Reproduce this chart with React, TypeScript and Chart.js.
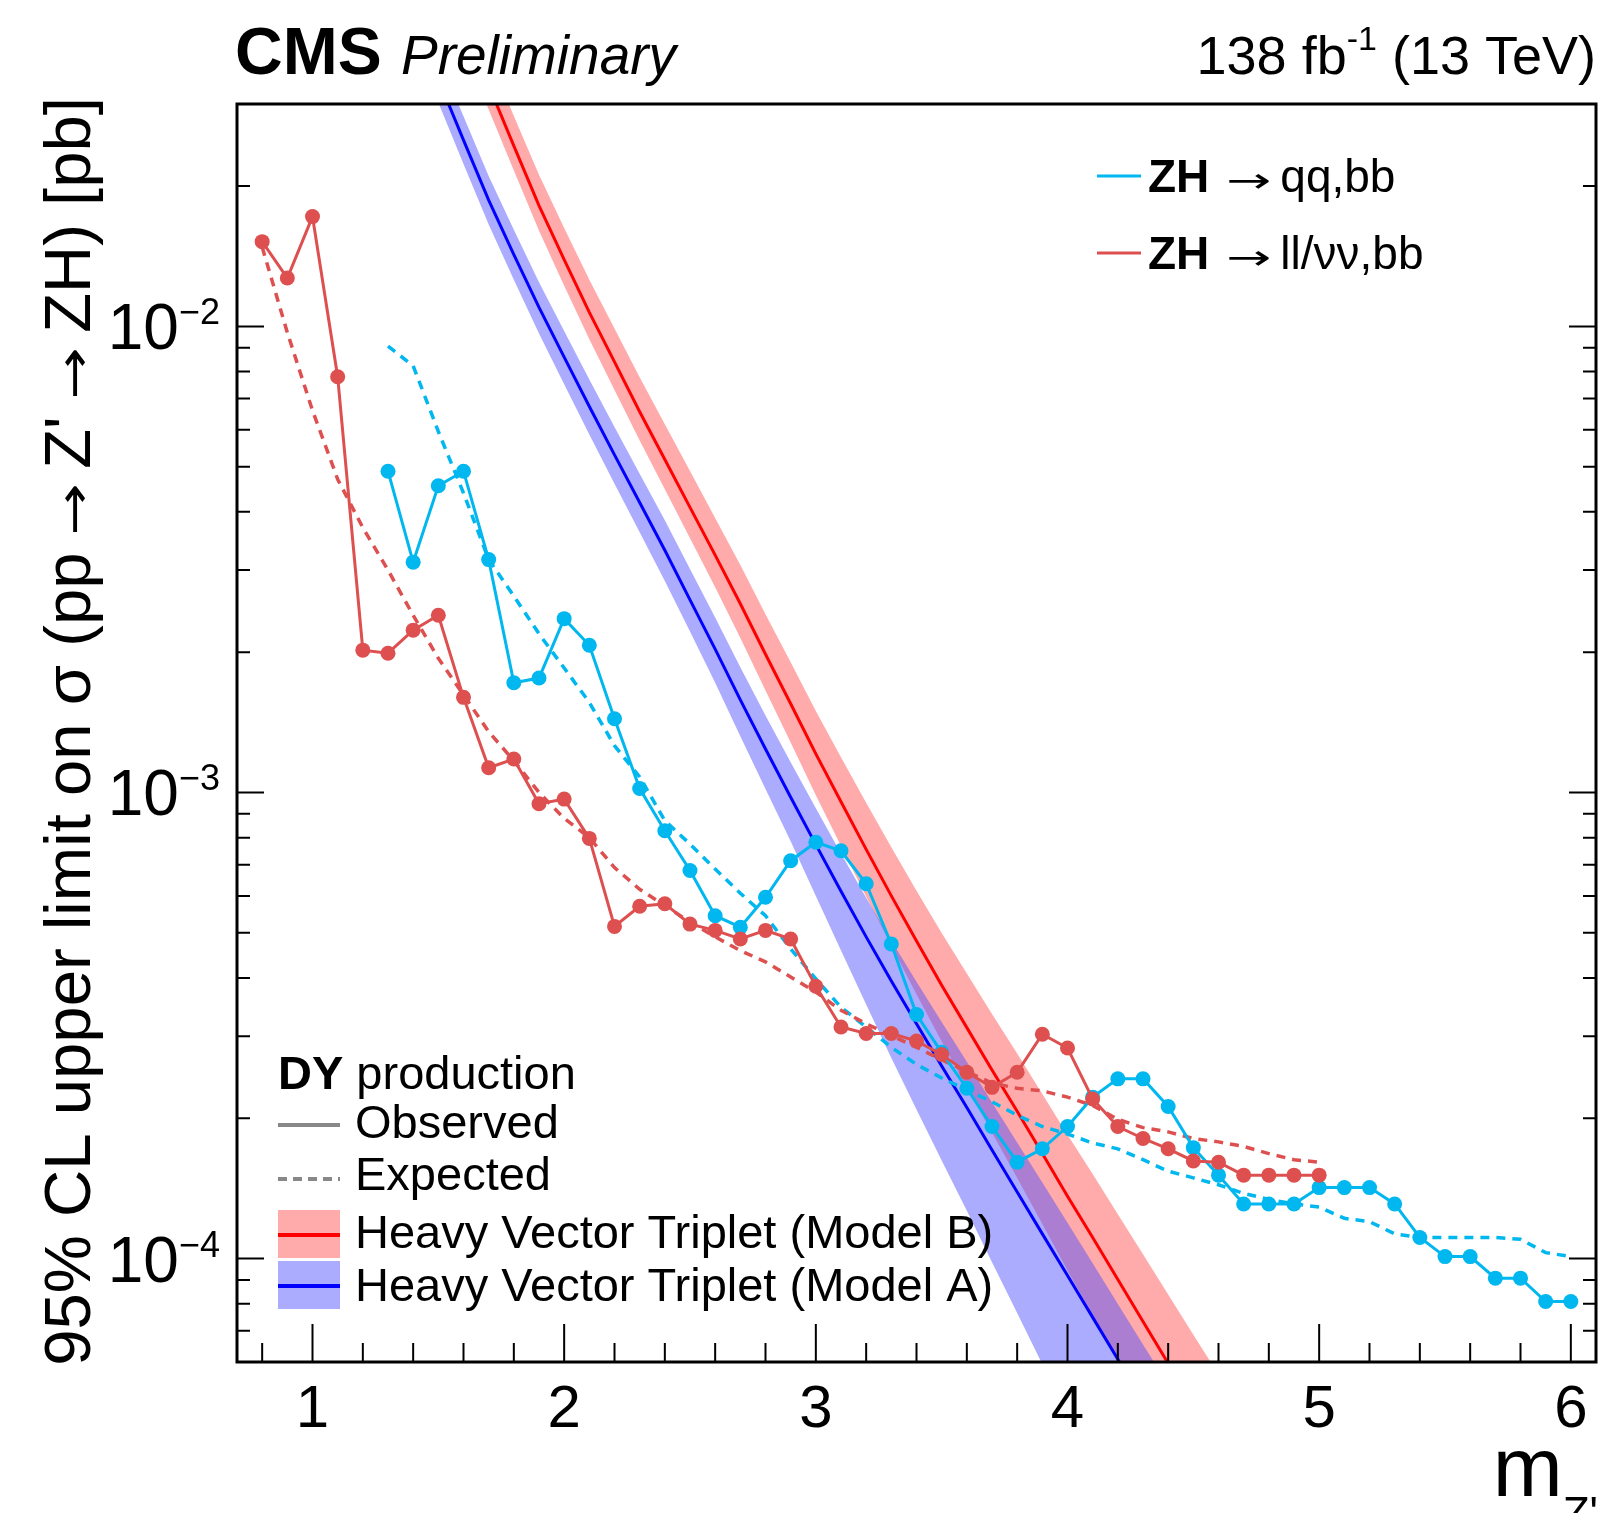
import { useEffect, useRef } from 'react';
import { Chart, registerables } from 'chart.js';

Chart.register(...registerables);

// ---------------- data ----------------
const RED_MASS = [0.8, 0.9, 1.0, 1.1, 1.2, 1.3, 1.4, 1.5, 1.6, 1.7, 1.8, 1.9, 2.0, 2.1, 2.2, 2.3, 2.4, 2.5, 2.6, 2.7, 2.8, 2.9, 3.0, 3.1, 3.2, 3.3, 3.4, 3.5, 3.6, 3.7, 3.8, 3.9, 4.0, 4.1, 4.2, 4.3, 4.4, 4.5, 4.6, 4.7, 4.8, 4.9, 5.0];
const RED_OBS = [0.0152, 0.0127, 0.0172, 0.0078, 0.00202, 0.00199, 0.00223, 0.0024, 0.0016, 0.00113, 0.00118, 0.000946, 0.000968, 0.000797, 0.000516, 0.00057, 0.000577, 0.000522, 0.000506, 0.000485, 0.000506, 0.000485, 0.000384, 0.000314, 0.000304, 0.000304, 0.000293, 0.000274, 0.000251, 0.000233, 0.000251, 0.000303, 0.000283, 0.00022, 0.000192, 0.000181, 0.000172, 0.000162, 0.000161, 0.000151, 0.000151, 0.000151, 0.000151];
const RED_EXP = [0.0148, 0.0097, 0.0066, 0.0047, 0.0037, 0.003, 0.0024, 0.00194, 0.00162, 0.00135, 0.00117, 0.001, 0.00088, 0.0008, 0.00069, 0.00062, 0.000572, 0.000527, 0.00049, 0.000458, 0.000433, 0.000402, 0.000373, 0.000341, 0.000319, 0.000301, 0.000284, 0.000267, 0.000252, 0.000238, 0.000232, 0.000229, 0.000222, 0.000213, 0.000199, 0.000191, 0.000187, 0.000181, 0.000178, 0.000174, 0.000168, 0.000163, 0.000161];

const CYAN_MASS = [1.3, 1.4, 1.5, 1.6, 1.7, 1.8, 1.9, 2.0, 2.1, 2.2, 2.3, 2.4, 2.5, 2.6, 2.7, 2.8, 2.9, 3.0, 3.1, 3.2, 3.3, 3.4, 3.5, 3.6, 3.7, 3.8, 3.9, 4.0, 4.1, 4.2, 4.3, 4.4, 4.5, 4.6, 4.7, 4.8, 4.9, 5.0, 5.1, 5.2, 5.3, 5.4, 5.5, 5.6, 5.7, 5.8, 5.9, 6.0];
const CYAN_OBS = [0.00489, 0.00312, 0.00455, 0.00489, 0.00316, 0.00172, 0.00176, 0.00236, 0.00207, 0.00144, 0.00102, 0.000828, 0.00068, 0.000544, 0.000514, 0.000596, 0.000714, 0.000782, 0.00075, 0.000637, 0.000473, 0.000334, 0.000277, 0.000232, 0.000192, 0.000161, 0.000172, 0.000192, 0.000222, 0.000243, 0.000243, 0.000212, 0.000173, 0.000151, 0.000131, 0.000131, 0.000131, 0.000142, 0.000142, 0.000142, 0.000131, 0.000111, 0.000101, 0.000101, 0.0000908, 0.0000908, 0.0000809, 0.0000809];
const CYAN_EXP = [0.00907, 0.00823, 0.00595, 0.00439, 0.00316, 0.00264, 0.00219, 0.00185, 0.00156, 0.00126, 0.00108, 0.00087, 0.000775, 0.000685, 0.000608, 0.000544, 0.000462, 0.000398, 0.000346, 0.000314, 0.000284, 0.000261, 0.000244, 0.00023, 0.000217, 0.000203, 0.000192, 0.000185, 0.000177, 0.000172, 0.000163, 0.000154, 0.000149, 0.000144, 0.000138, 0.000134, 0.000131, 0.000129, 0.000122, 0.00012, 0.000113, 0.000111, 0.000111, 0.000111, 0.000111, 0.00011, 0.000103, 0.000101];

const HVT_MASS = [1.4, 1.5, 1.6, 1.7, 1.8, 1.9, 2.0, 2.1, 2.2, 2.3, 2.4, 2.5, 2.6, 2.7, 2.8, 2.9, 3.0, 3.1, 3.2, 3.3, 3.4, 3.5, 3.6, 3.7, 3.8, 3.9, 4.0, 4.1, 4.2, 4.3, 4.4, 4.5, 4.6];
const HVT_A = [0.0457, 0.0339, 0.0251, 0.01866, 0.01426, 0.01099, 0.00859, 0.00673, 0.0053, 0.00419, 0.00331, 0.00259, 0.00203, 0.00158, 0.00124, 0.000977, 0.000773, 0.000614, 0.00049, 0.000394, 0.000319, 0.000259, 0.000211, 0.000171, 0.000139, 0.000113, 0.000092, 0.0000748, 0.0000608, 0.0000494, 0.0000402, 0.0000327, 0.0000265];
const HVT_A_DOWN_PCT = [10.9, 10.9, 11.1, 11.3, 11.7, 12.1, 12.5, 12.9, 13.3, 13.7, 14.1, 14.5, 15.3, 16.4, 18.0, 19.6, 22.4, 25.4, 28.4, 31.6, 34.5, 37.3, 40.0, 42.6, 45.0, 47.5, 49.8, 51.9, 54.0, 55.9, 57.8, 59.6, 61.4];
const HVT_A_UP_PCT = [12.2, 12.2, 12.5, 12.7, 13.0, 13.2, 13.8, 14.3, 14.8, 15.3, 15.9, 16.4, 17.0, 17.5, 18.0, 18.9, 19.7, 20.5, 21.3, 22.2, 23.0, 24.2, 25.3, 26.5, 27.6, 28.8, 29.7, 30.6, 31.5, 32.4, 33.4, 34.3, 35.2];
const HVT_B = [0.0824, 0.0605, 0.0444, 0.0329, 0.0244, 0.01816, 0.0139, 0.01072, 0.00839, 0.00656, 0.00518, 0.00409, 0.00323, 0.00254, 0.00198, 0.00155, 0.00121, 0.000955, 0.000755, 0.0006, 0.00048, 0.000386, 0.000313, 0.000254, 0.000207, 0.000168, 0.000136, 0.000111, 0.0000902, 0.0000733, 0.0000596, 0.0000484, 0.0000394];
const HVT_B_DOWN_PCT = [10.9, 10.9, 11.1, 11.3, 11.5, 11.7, 12.1, 12.5, 12.9, 13.3, 13.7, 14.1, 14.7, 15.5, 16.4, 17.4, 18.5, 19.6, 20.8, 21.8, 23.1, 24.3, 25.5, 26.7, 28.1, 29.4, 30.7, 31.9, 33.2, 34.4, 35.6, 36.9, 38.2];
const HVT_B_UP_PCT = [14.8, 15.1, 15.3, 15.6, 15.9, 16.4, 17.0, 17.5, 18.0, 18.6, 19.1, 19.7, 20.2, 21.1, 21.9, 22.7, 23.6, 24.7, 25.9, 27.1, 28.2, 29.4, 30.6, 31.8, 33.0, 34.3, 35.5, 36.8, 38.0, 39.3, 40.6, 41.9, 43.2];

// axes
const X_MIN = 0.7;
const X_MAX = 6.1;
const Y_MIN = 6e-5;
const Y_MAX = 0.03;
const X_MAJOR_TICKS = [1, 2, 3, 4, 5, 6];
const X_TICK_LABELS = ['1', '2', '3', '4', '5', '6'];
const Y_MAJOR_TICKS = [1e-4, 1e-3, 1e-2];
const Y_TICK_EXPONENTS = ['\u22124', '\u22123', '\u22122'];

// ---------------- styling ----------------
const F = '"Liberation Sans", Arial, Helvetica, sans-serif';
const SYM = '"DejaVu Sans", sans-serif';
const RED = '#de5050';
const CYAN = '#00b7ef';
const BAND_A = 'rgba(70,70,255,0.45)';
const BAND_B = 'rgba(255,0,0,0.33)';
const ARROW = '\u2192';

function toPoints(xs: number[], ys: number[]) {
  return xs.map((x, i) => ({ x, y: ys[i] }));
}
function withUnc(vals: number[], pct: number[], sign: number) {
  return vals.map((v, i) => v * (1 + (sign * pct[i]) / 100));
}

// a text run; w = forced advance width (glyph stretched horizontally), pre/post = extra gaps
type Part = { t: string; f: string; dy?: number; w?: number; pre?: number; post?: number };
function partAdvance(ctx: CanvasRenderingContext2D, p: Part) {
  ctx.font = p.f;
  const mw = ctx.measureText(p.t).width;
  return (p.pre || 0) + (p.w !== undefined ? p.w : mw) + (p.post || 0);
}
function partsWidth(ctx: CanvasRenderingContext2D, parts: Part[]) {
  let w = 0;
  for (const p of parts) w += partAdvance(ctx, p);
  return w;
}
function drawParts(ctx: CanvasRenderingContext2D, x: number, y: number, parts: Part[]) {
  let cx = x;
  ctx.textAlign = 'left';
  ctx.textBaseline = 'alphabetic';
  for (const p of parts) {
    ctx.font = p.f;
    const mw = ctx.measureText(p.t).width;
    cx += p.pre || 0;
    if (p.w !== undefined && mw > 0) {
      ctx.save();
      ctx.translate(cx, y + (p.dy || 0));
      ctx.scale(p.w / mw, 1);
      ctx.fillText(p.t, 0, 0);
      ctx.restore();
      cx += p.w;
    } else {
      ctx.fillText(p.t, cx, y + (p.dy || 0));
      cx += mw;
    }
    cx += p.post || 0;
  }
  return cx;
}
function yTitleParts(size: number): Part[] {
  const n = `${size}px ${F}`;
  const s = `${size * 0.72}px ${SYM}`;
  return [
    { t: '95% CL upper limit on \u03c3 (pp', f: n },
    { t: ARROW, f: s, w: size * 0.8, pre: size * 0.26, post: size * 0.22 },
    { t: "Z'", f: n },
    { t: ARROW, f: s, w: size * 0.8, pre: size * 0.26, post: size * 0.22 },
    { t: 'ZH) [pb]', f: n },
  ];
}

const decor = {
  id: 'decor',
  beforeDraw(chart: any) {
    const ctx = chart.ctx;
    ctx.save();
    ctx.fillStyle = '#ffffff';
    ctx.fillRect(0, 0, chart.width, chart.height);
    ctx.restore();
  },
  afterDraw(chart: any) {
    const ctx: CanvasRenderingContext2D = chart.ctx;
    const { left, right, top, bottom } = chart.chartArea;
    const xs = chart.scales.x;
    const ys = chart.scales.y;
    ctx.save();
    ctx.fillStyle = '#000';
    ctx.strokeStyle = '#000';

    // ticks
    ctx.lineWidth = 2;
    ctx.beginPath();
    for (let v = 0.8; v <= 6.01; v += 0.2) {
      const r = Math.round(v * 10) / 10;
      const major = Math.abs(r - Math.round(r)) < 1e-6;
      const px = xs.getPixelForValue(r);
      ctx.moveTo(px, bottom);
      ctx.lineTo(px, bottom - (major ? 38 : 19));
    }
    for (let e = -5; e <= -2; e++) {
      for (let m = 1; m <= 9; m++) {
        const v = m * Math.pow(10, e);
        if (v < Y_MIN * 0.999 || v > Y_MAX * 1.001) continue;
        const py = ys.getPixelForValue(v);
        const len = m === 1 ? 27 : 13;
        ctx.moveTo(left, py);
        ctx.lineTo(left + len, py);
        ctx.moveTo(right, py);
        ctx.lineTo(right - len, py);
      }
    }
    ctx.stroke();

    // frame
    ctx.lineWidth = 3;
    ctx.strokeRect(left, top, right - left, bottom - top);

    // x tick labels
    ctx.font = `60px ${F}`;
    ctx.textAlign = 'center';
    ctx.textBaseline = 'alphabetic';
    X_MAJOR_TICKS.forEach((v, i) => {
      ctx.fillText(X_TICK_LABELS[i], xs.getPixelForValue(v), 1427);
    });

    // y tick labels
    Y_MAJOR_TICKS.forEach((v, i) => {
      const py = ys.getPixelForValue(v);
      const parts: Part[] = [
        { t: '10', f: `64px ${F}` },
        { t: Y_TICK_EXPONENTS[i], f: `36px ${F}`, dy: -25 },
      ];
      const w = partsWidth(ctx, parts);
      drawParts(ctx, 220 - w, py + 23, parts);
    });

    // y title (fit to the axis length)
    {
      let size = 62;
      const target = 1269;
      const w0 = partsWidth(ctx, yTitleParts(size));
      size = (size * target) / w0;
      const parts = yTitleParts(size);
      const w = partsWidth(ctx, parts);
      ctx.save();
      ctx.translate(90, 97);
      ctx.rotate(-Math.PI / 2);
      drawParts(ctx, -w, 0, parts);
      ctx.restore();
    }

    // x title
    {
      const parts: Part[] = [
        { t: 'm', f: `84px ${F}` },
        { t: "Z'", f: `44px ${F}`, dy: 32 },
      ];
      const w = partsWidth(ctx, parts);
      drawParts(ctx, right + 2 - w, 1496, parts);
    }

    // header
    drawParts(ctx, 235, 74, [{ t: 'CMS', f: `bold 66px ${F}` }]);
    drawParts(ctx, 401, 74, [{ t: 'Preliminary', f: `italic 55px ${F}` }]);
    {
      const parts: Part[] = [
        { t: '138 fb', f: `54px ${F}` },
        { t: '-1', f: `34px ${F}`, dy: -24 },
        { t: ' (13 TeV)', f: `54px ${F}` },
      ];
      const w = partsWidth(ctx, parts);
      drawParts(ctx, right - w, 74, parts);
    }

    // top-right legend
    ctx.lineWidth = 3;
    ctx.setLineDash([]);
    ctx.strokeStyle = CYAN;
    ctx.beginPath();
    ctx.moveTo(1097, 176);
    ctx.lineTo(1141, 176);
    ctx.stroke();
    ctx.strokeStyle = RED;
    ctx.beginPath();
    ctx.moveTo(1097, 253);
    ctx.lineTo(1141, 253);
    ctx.stroke();
    ctx.fillStyle = '#000';
    drawParts(ctx, 1148, 192, [
      { t: 'ZH', f: `bold 46px ${F}` },
      { t: ARROW, f: `34px ${SYM}`, w: 45, pre: 17, post: 9 },
      { t: 'qq,bb', f: `46px ${F}` },
    ]);
    drawParts(ctx, 1148, 269, [
      { t: 'ZH', f: `bold 46px ${F}` },
      { t: ARROW, f: `34px ${SYM}`, w: 45, pre: 17, post: 9 },
      { t: 'll/\u03bd\u03bd,bb', f: `46px ${F}` },
    ]);

    // bottom-left legend
    drawParts(ctx, 278, 1089, [
      { t: 'DY', f: `bold 47px ${F}` },
      { t: ' production', f: `47px ${F}` },
    ]);
    ctx.strokeStyle = '#888888';
    ctx.lineWidth = 4;
    ctx.beginPath();
    ctx.moveTo(278, 1125);
    ctx.lineTo(340, 1125);
    ctx.stroke();
    ctx.setLineDash([9, 6]);
    ctx.beginPath();
    ctx.moveTo(278, 1179);
    ctx.lineTo(340, 1179);
    ctx.stroke();
    ctx.setLineDash([]);
    drawParts(ctx, 355, 1138, [{ t: 'Observed', f: `47px ${F}` }]);
    drawParts(ctx, 355, 1190, [{ t: 'Expected', f: `47px ${F}` }]);

    ctx.fillStyle = BAND_B;
    ctx.fillRect(278, 1210, 62, 48);
    ctx.strokeStyle = '#ff0000';
    ctx.lineWidth = 4;
    ctx.beginPath();
    ctx.moveTo(278, 1235);
    ctx.lineTo(340, 1235);
    ctx.stroke();
    ctx.fillStyle = BAND_A;
    ctx.fillRect(278, 1261, 62, 48);
    ctx.strokeStyle = '#0000ff';
    ctx.beginPath();
    ctx.moveTo(278, 1286);
    ctx.lineTo(340, 1286);
    ctx.stroke();
    ctx.fillStyle = '#000';
    drawParts(ctx, 355, 1248, [{ t: 'Heavy Vector Triplet (Model B)', f: `47px ${F}` }]);
    drawParts(ctx, 355, 1301, [{ t: 'Heavy Vector Triplet (Model A)', f: `47px ${F}` }]);

    ctx.restore();
  },
};

export default function App() {
  const ref = useRef<HTMLCanvasElement>(null);
  useEffect(() => {
    const canvas = ref.current;
    if (!canvas) return;
    const base = { pointRadius: 0, pointHoverRadius: 0, tension: 0 };
    const chart = new Chart(canvas, {
      type: 'line',
      data: {
        datasets: [
          { ...base, label: 'obs ll', data: toPoints(RED_MASS, RED_OBS), borderColor: RED, backgroundColor: RED, borderWidth: 3, pointRadius: 7.5, pointBorderWidth: 0, pointBackgroundColor: RED, fill: false, order: 0 },
          { ...base, label: 'obs qq', data: toPoints(CYAN_MASS, CYAN_OBS), borderColor: CYAN, backgroundColor: CYAN, borderWidth: 3, pointRadius: 7.5, pointBorderWidth: 0, pointBackgroundColor: CYAN, fill: false, order: 0 },
          { ...base, label: 'exp ll', data: toPoints(RED_MASS, RED_EXP), borderColor: RED, borderWidth: 3.5, borderDash: [9, 7], fill: false, order: 1 },
          { ...base, label: 'exp qq', data: toPoints(CYAN_MASS, CYAN_EXP), borderColor: CYAN, borderWidth: 3.5, borderDash: [9, 7], fill: false, order: 1 },
          { ...base, label: 'HVT B', data: toPoints(HVT_MASS, HVT_B), borderColor: '#ff0000', borderWidth: 3, fill: false, order: 2 },
          { ...base, label: 'HVT A', data: toPoints(HVT_MASS, HVT_A), borderColor: '#0000ff', borderWidth: 3, fill: false, order: 2 },
          { ...base, label: 'A up', data: toPoints(HVT_MASS, withUnc(HVT_A, HVT_A_UP_PCT, 1)), borderColor: 'rgba(0,0,0,0)', borderWidth: 1, backgroundColor: BAND_A, fill: '+1', order: 3 },
          { ...base, label: 'A down', data: toPoints(HVT_MASS, withUnc(HVT_A, HVT_A_DOWN_PCT, -1)), borderColor: 'rgba(0,0,0,0)', borderWidth: 1, fill: false, order: 3 },
          { ...base, label: 'B up', data: toPoints(HVT_MASS, withUnc(HVT_B, HVT_B_UP_PCT, 1)), borderColor: 'rgba(0,0,0,0)', borderWidth: 1, backgroundColor: BAND_B, fill: '+1', order: 4 },
          { ...base, label: 'B down', data: toPoints(HVT_MASS, withUnc(HVT_B, HVT_B_DOWN_PCT, -1)), borderColor: 'rgba(0,0,0,0)', borderWidth: 1, fill: false, order: 4 },
        ],
      },
      options: {
        responsive: false,
        animation: false,
        devicePixelRatio: 1,
        events: [],
        layout: { padding: { left: 237, right: 8, top: 104, bottom: 151 } },
        scales: {
          x: { type: 'linear', min: X_MIN, max: X_MAX, display: false },
          y: { type: 'logarithmic', min: Y_MIN, max: Y_MAX, display: false },
        },
        plugins: { legend: { display: false }, tooltip: { enabled: false } },
      },
      plugins: [decor],
    } as any);
    return () => chart.destroy();
  }, []);
  return (
    <div style={{ position: 'absolute', left: 0, top: 0, width: 1604, height: 1513, background: '#fff' }}>
      <canvas ref={ref} width={1604} height={1513} style={{ display: 'block', width: 1604, height: 1513 }} />
    </div>
  );
}
